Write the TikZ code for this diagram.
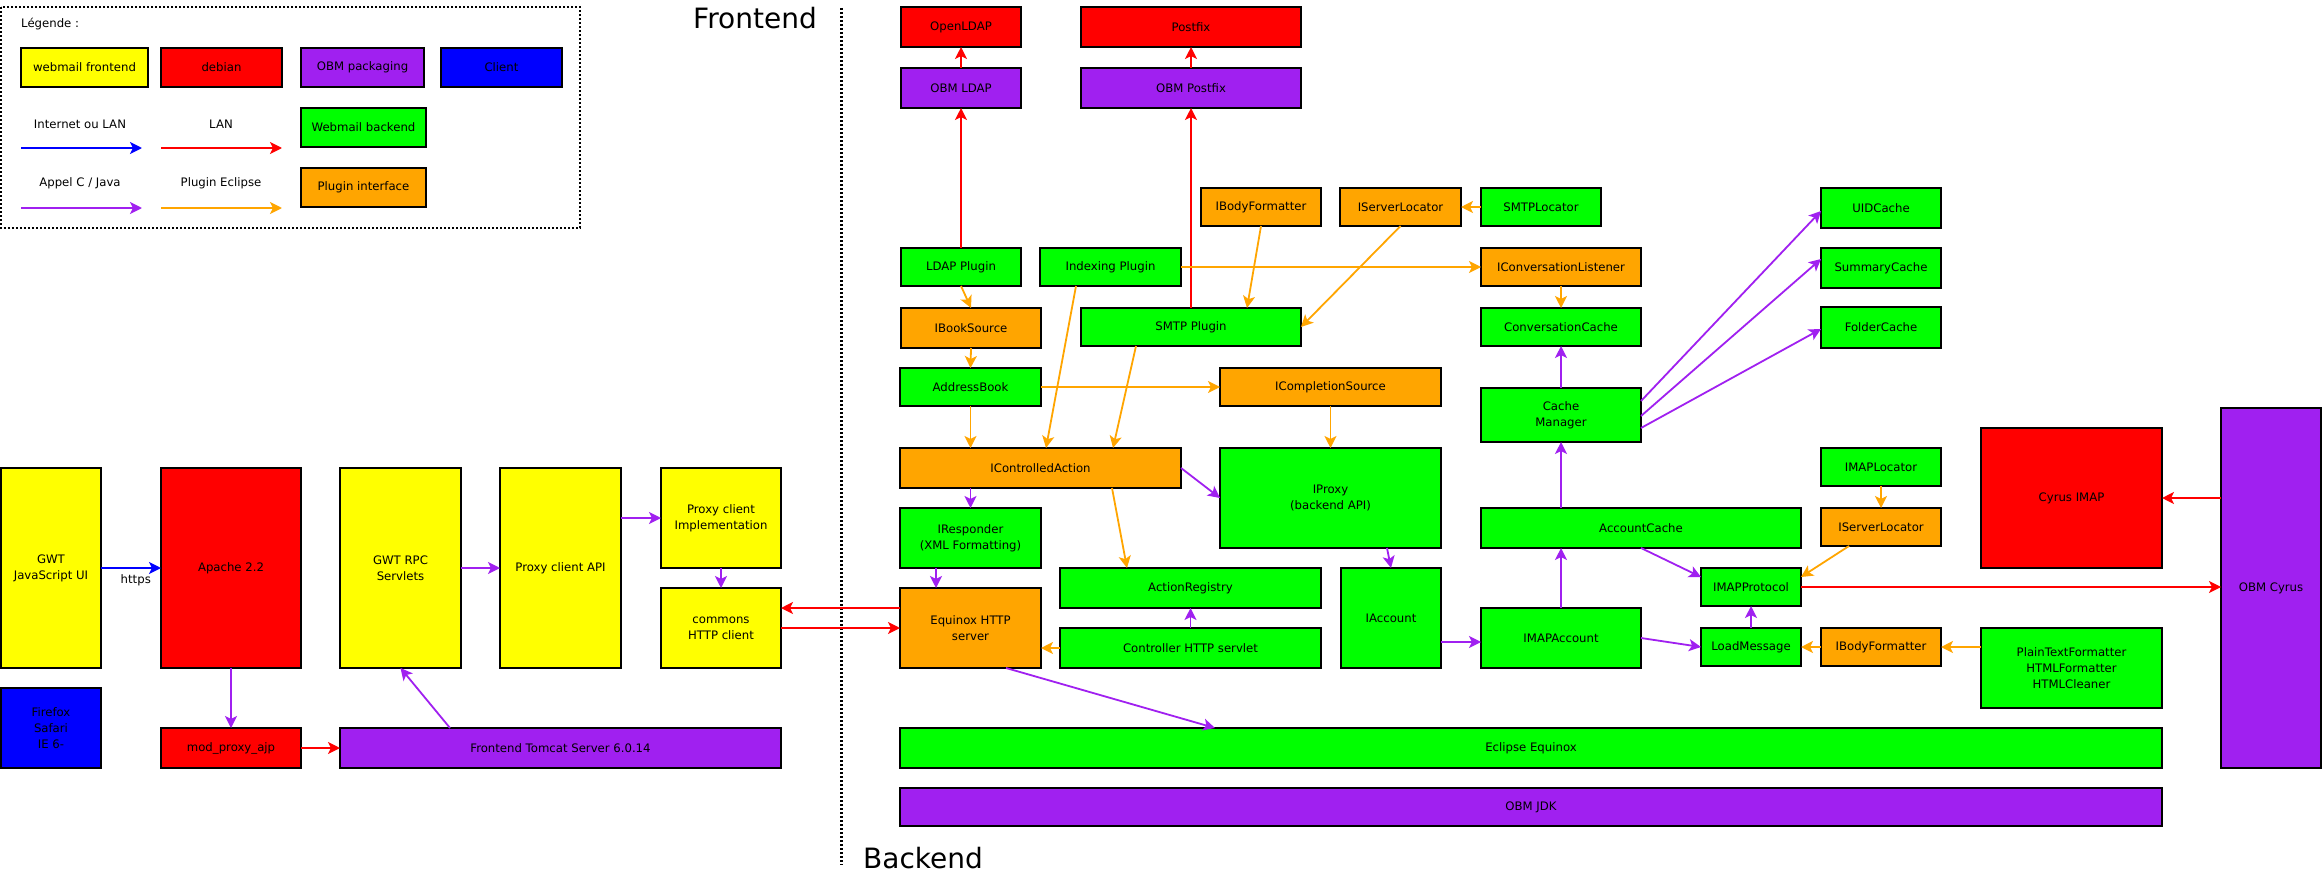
\documentclass[tikz,border=0pt]{standalone}
\usepackage{fontspec}
\setmainfont{DejaVu Sans}
\usetikzlibrary{arrows.meta,calc}
\definecolor{cyel}{HTML}{FFFF00}
\definecolor{cred}{HTML}{FF0000}
\definecolor{cpurple}{HTML}{A020F0}
\definecolor{cblue}{HTML}{0000FF}
\definecolor{cgreen}{HTML}{00FF00}
\definecolor{corange}{HTML}{FFA500}
\tikzset{
  box/.style={draw=black, line width=2.4pt, rectangle, inner sep=0pt, outer sep=0pt, align=center, font=\fontsize{11.7}{16}\selectfont},
  lbl/.style={inner sep=0pt, align=center, font=\fontsize{11.7}{16}\selectfont},
  title/.style={inner sep=0pt, font=\fontsize{28}{32}\selectfont},
  conn/.style={line width=1.8pt, -{Stealth[length=12pt,width=12pt,inset=3pt]}},
  lan/.style={conn, draw=cred},
  net/.style={conn, draw=cblue},
  java/.style={conn, draw=cpurple},
  plug/.style={conn, draw=corange},
  divider/.style={draw=black, line width=3pt, dash pattern=on 2pt off 2pt},
  legendborder/.style={draw=black, line width=2pt, dash pattern=on 2pt off 2pt},
}
\newcommand\mybox[7]{%
  \pgfmathsetmacro\mbw{#4-#2}\pgfmathsetmacro\mbh{#5-#3}%
  \pgfmathsetmacro\mbcx{(#2+#4)/2}\pgfmathsetmacro\mbcy{(#3+#5)/2}%
  \node[box, fill=#6, minimum width=\mbw pt, minimum height=\mbh pt] (#1) at (\mbcx,\mbcy) {#7};}
\begin{document}
\begin{tikzpicture}[x=1pt,y=-1pt]
\useasboundingbox[fill=white] (0,0) rectangle (2323,891);

% ---------- legend ----------
\draw[legendborder] (1,7) rectangle (580,228);
\node[lbl, anchor=west] (legtitle) at (21,24) {Légende :};
\mybox{lg1}{21}{48}{148}{87}{cyel}{webmail frontend}
\mybox{lg2}{161}{48}{282}{87}{cred}{debian}
\mybox{lg3}{301}{48}{424}{87}{cpurple}{OBM packaging}
\mybox{lg4}{441}{48}{562}{87}{cblue}{Client}
\mybox{lg5}{301}{108}{426}{147}{cgreen}{Webmail backend}
\mybox{lg6}{301}{168}{426}{207}{corange}{Plugin interface}
\node[lbl] (lgt1) at (80,124) {Internet ou LAN};
\node[lbl] (lgt2) at (221,124) {LAN};
\node[lbl] (lgt3) at (80,183) {Appel C / Java};
\node[lbl] (lgt4) at (221,183) {Plugin Eclipse};
\coordinate (la1s) at (21,148); \coordinate (la1e) at (142,148);
\coordinate (la2s) at (161,148); \coordinate (la2e) at (282,148);
\coordinate (la3s) at (21,208); \coordinate (la3e) at (142,208);
\coordinate (la4s) at (161,208); \coordinate (la4e) at (282,208);
\draw[net] (la1s) -- (la1e);
\draw[lan] (la2s) -- (la2e);
\draw[java] (la3s) -- (la3e);
\draw[plug] (la4s) -- (la4e);

% ---------- titles and divider ----------
\node[title, anchor=base west] (fronttitle) at (693,29) {Frontend};
\node[title, anchor=base west] (backtitle) at (863,868) {Backend};
\coordinate (divtop) at (841,8); \coordinate (divbot) at (841,865);
\draw[divider] (divtop) -- (divbot);

% ---------- frontend ----------
\mybox{gwt}{1}{468}{101}{668}{cyel}{GWT\\JavaScript UI}
\mybox{apache}{161}{468}{301}{668}{cred}{Apache 2.2}
\mybox{rpc}{340}{468}{461}{668}{cyel}{GWT RPC\\Servlets}
\mybox{papi}{500}{468}{621}{668}{cyel}{Proxy client API}
\mybox{pimpl}{661}{468}{781}{568}{cyel}{Proxy client\\Implementation}
\mybox{commons}{661}{588}{781}{668}{cyel}{commons\\HTTP client}
\mybox{firefox}{1}{688}{101}{768}{cblue}{Firefox\\Safari\\IE 6-}
\mybox{modproxy}{161}{728}{301}{768}{cred}{mod\_proxy\_ajp}
\mybox{tomcat}{340}{728}{781}{768}{cpurple}{Frontend Tomcat Server 6.0.14}

% ---------- backend ----------
\mybox{openldap}{901}{7}{1021}{47}{cred}{OpenLDAP}
\mybox{postfix}{1081}{7}{1301}{47}{cred}{Postfix}
\mybox{obmldap}{901}{68}{1021}{108}{cpurple}{OBM LDAP}
\mybox{obmpostfix}{1081}{68}{1301}{108}{cpurple}{OBM Postfix}
\mybox{ibf1}{1201}{188}{1321}{226}{corange}{IBodyFormatter}
\mybox{isl1}{1340}{188}{1461}{226}{corange}{IServerLocator}
\mybox{smtploc}{1481}{188}{1601}{226}{cgreen}{SMTPLocator}
\mybox{uid}{1821}{188}{1941}{228}{cgreen}{UIDCache}
\mybox{ldapplug}{901}{248}{1021}{286}{cgreen}{LDAP Plugin}
\mybox{indexing}{1040}{248}{1181}{286}{cgreen}{Indexing Plugin}
\mybox{iconvl}{1481}{248}{1641}{286}{corange}{IConversationListener}
\mybox{summary}{1821}{248}{1941}{288}{cgreen}{SummaryCache}
\mybox{ibook}{901}{308}{1041}{348}{corange}{IBookSource}
\mybox{smtpplug}{1081}{308}{1301}{346}{cgreen}{SMTP Plugin}
\mybox{convcache}{1481}{308}{1641}{346}{cgreen}{ConversationCache}
\mybox{folder}{1821}{307}{1941}{348}{cgreen}{FolderCache}
\mybox{addrbook}{900}{368}{1041}{406}{cgreen}{AddressBook}
\mybox{icompl}{1220}{368}{1441}{406}{corange}{ICompletionSource}
\mybox{cachemgr}{1481}{388}{1641}{442}{cgreen}{Cache\\Manager}
\mybox{ica}{900}{448}{1181}{488}{corange}{IControlledAction}
\mybox{iproxy}{1220}{448}{1441}{548}{cgreen}{IProxy\\(backend API)}
\mybox{imaploc}{1821}{448}{1941}{486}{cgreen}{IMAPLocator}
\mybox{cyrusimap}{1981}{428}{2162}{568}{cred}{Cyrus IMAP}
\mybox{obmcyrus}{2221}{408}{2321}{768}{cpurple}{OBM Cyrus}
\mybox{iresp}{900}{508}{1041}{568}{cgreen}{IResponder\\(XML Formatting)}
\mybox{acccache}{1481}{508}{1801}{548}{cgreen}{AccountCache}
\mybox{isl2}{1821}{508}{1941}{546}{corange}{IServerLocator}
\mybox{actreg}{1060}{568}{1321}{608}{cgreen}{ActionRegistry}
\mybox{iaccount}{1341}{568}{1441}{668}{cgreen}{IAccount}
\mybox{imapproto}{1701}{568}{1801}{606}{cgreen}{IMAPProtocol}
\mybox{equinoxhttp}{900}{588}{1041}{668}{corange}{Equinox HTTP\\server}
\mybox{imapacc}{1481}{608}{1641}{668}{cgreen}{IMAPAccount}
\mybox{ctrl}{1060}{628}{1321}{668}{cgreen}{Controller HTTP servlet}
\mybox{loadmsg}{1701}{628}{1801}{666}{cgreen}{LoadMessage}
\mybox{ibf2}{1821}{628}{1941}{666}{corange}{IBodyFormatter}
\mybox{formatters}{1981}{628}{2162}{708}{cgreen}{PlainTextFormatter\\HTMLFormatter\\HTMLCleaner}
\mybox{eclipse}{900}{728}{2162}{768}{cgreen}{Eclipse Equinox}
\mybox{jdk}{900}{788}{2162}{826}{cpurple}{OBM JDK}

% ---------- frontend connectors ----------
\draw[net] (gwt.east) -- node[lbl, pos=0.58, below=6pt] (httpslbl) {https} (apache.west);
\draw[java] (apache.south) -- (modproxy.north);
\draw[lan] (modproxy.east) -- (tomcat.west);
\draw[java] ([xshift=-110.5pt]tomcat.north) -- (rpc.south);
\draw[java] (rpc.east) -- (papi.west);
\draw[java] (pimpl.west -| papi.east) -- (pimpl.west);
\draw[java] (pimpl.south) -- (commons.north);
\draw[lan] ([yshift=20pt]equinoxhttp.west) -- ([yshift=20pt]commons.east);
\draw[lan] (commons.east) -- (equinoxhttp.west);

% ---------- backend connectors ----------
\draw[lan] (obmldap.north) -- (openldap.south);
\draw[lan] (ldapplug.north) -- (obmldap.south);
\draw[lan] (obmpostfix.north) -- (postfix.south);
\draw[lan] (smtpplug.north) -- (obmpostfix.south);
\draw[plug] (ldapplug.south) -- (ibook.north);
\draw[plug] (ibook.south) -- (addrbook.north);
\draw[plug] (addrbook.south) -- (addrbook.south |- ica.north);
\draw[plug] (addrbook.east) -- (addrbook.east -| icompl.west);
\draw[plug] (icompl.south) -- (iproxy.north);
\draw[plug] ([xshift=-34.5pt]indexing.south) -- ([xshift=5.5pt]ica.north);
\draw[plug] ([xshift=-55pt]smtpplug.south) -- ([xshift=72.5pt]ica.north);
\draw[plug] (indexing.east) -- (iconvl.west);
\draw[plug] (ibf1.south) -- ([xshift=56pt]smtpplug.north);
\draw[plug] (isl1.south) -- (smtpplug.east);
\draw[plug] (smtploc.west) -- (isl1.east);
\draw[plug] (iconvl.south) -- (convcache.north);
\draw[java] (cachemgr.north) -- (convcache.south);
\draw[java] (acccache.north -| cachemgr.south) -- (cachemgr.south);
\draw[java] (imapacc.north) -- (imapacc.north |- acccache.south);
\draw[java] ([yshift=14pt]cachemgr.east) -- ([yshift=-3pt]uid.west);
\draw[java] ([yshift=-1pt]cachemgr.east) -- ([yshift=9pt]summary.west);
\draw[java] ([yshift=-13pt]cachemgr.east) -- ([yshift=-1.5pt]folder.west);
\draw[java] (iresp.north |- ica.south) -- (iresp.north);
\draw[java] (ica.east) -- (iproxy.west);
\draw[plug] ([xshift=71.5pt]ica.south) -- ([xshift=-63.5pt]actreg.north);
\draw[java] ([xshift=-34.5pt]iresp.south) -- ([xshift=-34.5pt]equinoxhttp.north);
\draw[java] ([xshift=56.5pt]iproxy.south) -- (iaccount.north);
\draw[java] (ctrl.north) -- (actreg.south);
\draw[plug] (ctrl.west) -- (ctrl.west -| equinoxhttp.east);
\coordinate (iaend) at ([yshift=-4pt]imapacc.west);
\draw[java] (iaend -| iaccount.east) -- (iaend);
\draw[java] ([xshift=35.5pt]equinoxhttp.south) -- ([xshift=-316pt]eclipse.north);
\draw[java] (acccache.south) -- ([yshift=10pt]imapproto.west);
\draw[java] (imapacc.east) -- (loadmsg.west);
\draw[java] (loadmsg.north) -- (imapproto.south);
\draw[plug] (imaploc.south) -- (isl2.north);
\draw[plug] ([xshift=-32pt]isl2.south) -- ([yshift=10pt]imapproto.east);
\draw[lan] (imapproto.east) -- (imapproto.east -| obmcyrus.west);
\draw[lan] (cyrusimap.east -| obmcyrus.west) -- (cyrusimap.east);
\draw[plug] (ibf2.west) -- (loadmsg.east);
\draw[plug] (ibf2.east -| formatters.west) -- (ibf2.east);
\end{tikzpicture}
\end{document}
